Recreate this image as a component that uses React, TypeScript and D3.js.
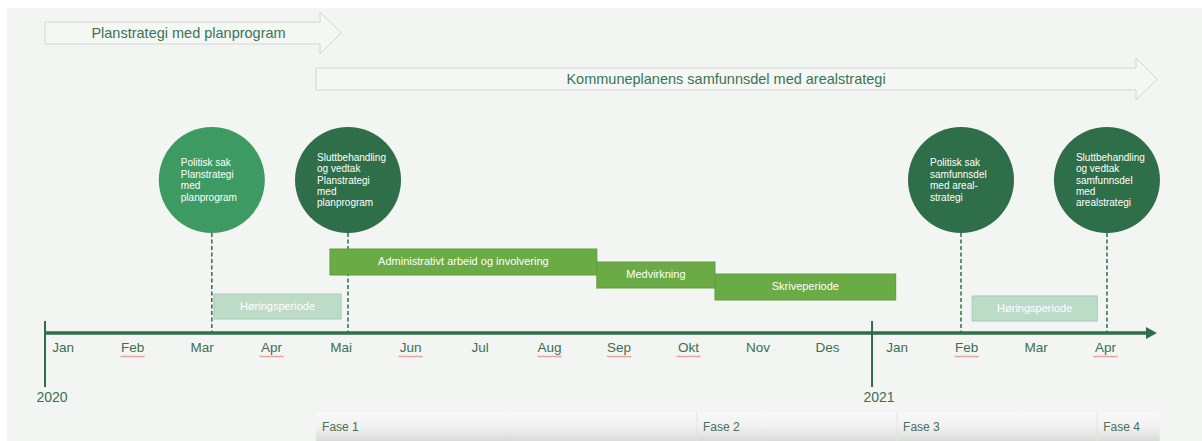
import React from "react";
import * as d3 from "d3";

// month slots along the timeline (Jan 2020 .. Apr 2021)
const months = ["Jan", "Feb", "Mar", "Apr", "Mai", "Jun", "Jul", "Aug", "Sep", "Okt", "Nov", "Des", "Jan", "Feb", "Mar", "Apr"];
const squiggly = ["Feb", "Apr", "Jun", "Aug", "Sep", "Okt"];

const years = [
  { label: "2020", at: 0 },
  { label: "2021", at: 11.9 },
];

// big process arrows at the top (positions in months)
const processLabels = ["Planstrategi med planprogram", "Kommuneplanens samfunnsdel med arealstrategi"];
const processStart = [0, 3.9];
const processEnd = [4.26, 16];

// milestones (circles)
const milestoneAt = [2.4, 4.36, 13.18, 15.28];
const milestoneText = [
  ["Politisk sak", "Planstrategi", "med", "planprogram"],
  ["Sluttbehandling", "og vedtak", "Planstrategi", "med", "planprogram"],
  ["Politisk sak", "samfunnsdel", "med areal-", "strategi"],
  ["Sluttbehandling", "og vedtak", "samfunnsdel", "med", "arealstrategi"],
];
const milestoneTone = ["light", "dark", "dark", "dark"];

// activity bars
const activityLabels = ["Administrativt arbeid og involvering", "Medvirkning", "Skriveperiode"];
const activityStart = [4.1, 7.94, 9.64];
const activityEnd = [7.94, 9.64, 12.24];

// hearing periods
const hearingStart = [2.43, 13.34];
const hearingEnd = [4.26, 15.14];

// phases along the bottom
const phaseLabels = ["Fase 1", "Fase 2", "Fase 3", "Fase 4"];
const phaseStart = [3.9, 9.38, 12.26, 15.14];
const phaseEnd = 16.04;

const W = 1202;
const H = 441;
const font = "'Liberation Sans', Arial, sans-serif";
const dark = "#2e6e48";
const textGreen = "#3d6e55";

const App = () => {
  const x = d3.scaleLinear().domain([0, 16]).range([45, 1157]);
  const axisY = 333;
  const arrowY = [33, 79];
  const arrowHalf = 11;
  const headHalf = 21;
  const headLen = 21;
  const circleY = 180;
  const r = 53;
  const barTop = [249, 262, 274];
  const barH = 26;

  const arrowPath = (s: number, e: number, cy: number) => {
    const p = d3.path();
    const x0 = x(s);
    const x1 = x(e);
    p.moveTo(x0, cy - arrowHalf);
    p.lineTo(x1 - headLen, cy - arrowHalf);
    p.lineTo(x1 - headLen, cy - headHalf);
    p.lineTo(x1, cy);
    p.lineTo(x1 - headLen, cy + headHalf);
    p.lineTo(x1 - headLen, cy + arrowHalf);
    p.lineTo(x0, cy + arrowHalf);
    p.closePath();
    return p.toString();
  };

  const wavy = (x0: number, x1: number, y: number) => {
    const pts: [number, number][] = d3.range(x0, x1 + 0.1, 1.5).map((v, i) => [v, y + (i % 2 ? 1 : 0)]);
    return d3.line()(pts) || "";
  };

  return (
    <svg width={W} height={H} style={{ position: "absolute", left: 0, top: 0, fontFamily: font }}>
      <defs>
        <linearGradient id="phaseGrad" x1="0" y1="0" x2="0" y2="1">
          <stop offset="0" stopColor="#f7f8f7" />
          <stop offset="0.5" stopColor="#f1f2f1" />
          <stop offset="1" stopColor="#d9dbd9" />
        </linearGradient>
      </defs>
      <rect width={W} height={H} fill="#ffffff" />
      <rect x={7} y={8} width={W - 7} height={H - 8} fill="#f3f5f3" />

      {/* process arrows */}
      {processLabels.map((lab, i) => (
        <g key={lab}>
          <path d={arrowPath(processStart[i], processEnd[i], arrowY[i])} fill="#f5f7f5" stroke="#d2d6d2" strokeWidth={1} />
          <text
            x={(x(processStart[i]) + x(processEnd[i]) - headLen) / 2 + (i === 0 ? 6 : 0)}
            y={arrowY[i]}
            dy="0.35em"
            textAnchor="middle"
            fontSize={14.5}
            fill="#3a7455"
          >
            {lab}
          </text>
        </g>
      ))}

      {/* dashed leaders */}
      {milestoneAt.map((m, i) => (
        <line key={"d" + i} x1={x(m)} x2={x(m)} y1={circleY + r} y2={axisY} stroke={dark} strokeWidth={1.5} strokeDasharray="4,2.5" />
      ))}

      {/* hearing periods */}
      {hearingStart.map((s, i) => (
        <g key={"h" + i}>
          <rect
            x={x(s)}
            y={i === 0 ? 294 : 296}
            width={x(hearingEnd[i]) - x(s)}
            height={25}
            fill="#bcdcc8"
            stroke="#a9cbb6"
            strokeWidth={1}
          />
          <text x={(x(s) + x(hearingEnd[i])) / 2} y={(i === 0 ? 294 : 296) + 12.5} dy="0.35em" textAnchor="middle" fontSize={11} fill="#ffffff">
            Høringsperiode
          </text>
        </g>
      ))}

      {/* activity bars */}
      {activityLabels.map((lab, i) => (
        <g key={lab}>
          <rect
            x={x(activityStart[i])}
            y={barTop[i]}
            width={x(activityEnd[i]) - x(activityStart[i])}
            height={barH}
            fill="#6aab45"
            stroke="#5f9c3d"
            strokeWidth={1}
          />
          <text
            x={(x(activityStart[i]) + x(activityEnd[i])) / 2}
            y={barTop[i] + barH / 2 - 1}
            dy="0.35em"
            textAnchor="middle"
            fontSize={11}
            fill="#ffffff"
          >
            {lab}
          </text>
        </g>
      ))}

      {/* milestone circles */}
      {milestoneAt.map((m, i) => {
        const lines = milestoneText[i];
        const lh = 11.4;
        const y0 = circleY - ((lines.length - 1) * lh) / 2;
        return (
          <g key={"c" + i}>
            <circle cx={x(m)} cy={circleY} r={r} fill={milestoneTone[i] === "light" ? "#3d9a62" : dark} />
            {lines.map((ln, j) => (
              <text key={j} x={x(m) - 31} y={y0 + j * lh} dy="0.35em" fontSize={10} fill="#ffffff">
                {ln}
              </text>
            ))}
          </g>
        );
      })}

      {/* timeline axis */}
      <line x1={x(0)} x2={x(16) - 8} y1={axisY} y2={axisY} stroke={dark} strokeWidth={3.5} />
      <path d={`M${x(16)},${axisY} L${x(16) - 11},${axisY - 6} L${x(16) - 11},${axisY + 6} Z`} fill={dark} />

      {/* year markers */}
      {years.map((y) => (
        <g key={y.label}>
          <line x1={x(y.at)} x2={x(y.at)} y1={321} y2={387} stroke={dark} strokeWidth={2} />
          <text x={x(y.at) + 7} y={397} dy="0.35em" textAnchor="middle" fontSize={14} fill={textGreen}>
            {y.label}
          </text>
        </g>
      ))}

      {/* month labels */}
      {months.map((mo, i) => {
        const cx = x(i + 0.26);
        return (
          <g key={"m" + i}>
            <text x={cx} y={347} dy="0.35em" textAnchor="middle" fontSize={13.5} fill={textGreen}>
              {mo}
            </text>
            {squiggly.includes(mo) && <path d={wavy(cx - 12, cx + 12, 356)} fill="none" stroke="#e06060" strokeWidth={0.8} />}
          </g>
        );
      })}

      {/* phases */}
      <rect x={x(phaseStart[0])} y={412} width={x(phaseEnd) - x(phaseStart[0])} height={H - 412} fill="url(#phaseGrad)" />
      {phaseLabels.map((lab, i) => (
        <g key={lab}>
          {i > 0 && <line x1={x(phaseStart[i])} x2={x(phaseStart[i])} y1={412} y2={H} stroke="#e2e4e2" strokeWidth={1} />}
          <text x={x(phaseStart[i]) + 6} y={427} dy="0.35em" fontSize={12} fill="#4a6e5a">
            {lab}
          </text>
        </g>
      ))}
    </svg>
  );
};

export default App;
